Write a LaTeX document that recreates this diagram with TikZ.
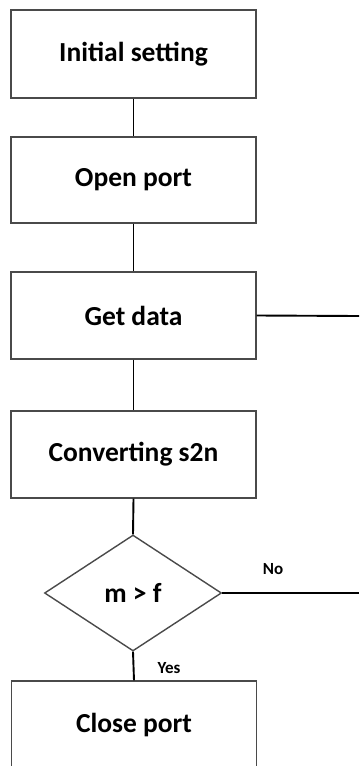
\documentclass[tikz,border=0pt]{standalone}
\usepackage{fontspec}
\setmainfont{Carlito}
\usetikzlibrary{shapes.geometric}
\definecolor{boxline}{HTML}{4A4A4A}
\begin{document}
\begin{tikzpicture}[x=1pt,y=-1pt,
  stepbox/.style={draw=boxline,line width=1.4pt,rectangle,minimum width=245pt,inner sep=0pt,font=\fontsize{27.5}{30}\selectfont\bfseries},
  decbox/.style={draw=boxline,line width=1.4pt,diamond,minimum width=177pt,minimum height=116pt,inner sep=0pt,font=\fontsize{27.5}{30}\selectfont\bfseries},
  conn/.style={draw=black,line width=1.9pt},
  lbl/.style={font=\fontsize{17}{19}\selectfont\bfseries,inner sep=0pt}]
\useasboundingbox (0,0) rectangle (359,766);
\clip (0,0) rectangle (359,766);
\node[stepbox,minimum height=88pt] (init) at (133.5,54) {Initial setting};
\node[stepbox,minimum height=86pt] (open) at (133.5,180) {Open port};
\node[stepbox,minimum height=87pt] (get) at (133.5,315.5) {Get data};
\node[stepbox,minimum height=87pt] (conv) at (133.5,454.5) {Converting s2n};
\node[decbox] (dec) at (133,593) {m > f};
\node[stepbox,minimum height=88pt] (close) at (134,725) {Close port};
\coordinate (getR) at (359,316);
\coordinate (decR) at (359,593);
\draw[conn] (init.south) -- (open.north);
\draw[conn] (open.south) -- (get.north);
\draw[conn] (get.south) -- (conv.north);
\draw[conn] (conv.south) -- (dec.north);
\draw[conn] (dec.south) -- (close.north);
\draw[conn] (get.east) -- (getR);
\draw[conn] (dec.east) -- (decR);
\node[lbl] (no) at (273,569) {No};
\node[lbl] (yes) at (169,668) {Yes};
\end{tikzpicture}
\end{document}
